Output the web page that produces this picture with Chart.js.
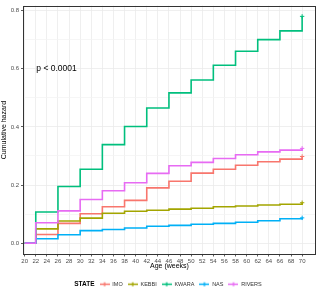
<!DOCTYPE html>
<html lang="en">
<head>
<meta charset="UTF-8">
<title>Cumulative hazard</title>
<script src="https://cdn.jsdelivr.net/npm/chart.js"></script>
<style>
  html, body { margin: 0; padding: 0; background: #fff; }
  #wrap { width: 320px; height: 292px; }
</style>
</head>
<body>
<div id="wrap"><canvas id="chart"></canvas></div>
<script>
// ages where the curves step (weeks)
var ages = [20, 22, 26, 30, 34, 38, 42, 46, 50, 54, 58, 62, 66, 70];
var imo    = [0, 0.030, 0.068, 0.101, 0.125, 0.147, 0.190, 0.213, 0.241, 0.254, 0.268, 0.280, 0.289, 0.298];
var kebbi  = [0, 0.049, 0.076, 0.086, 0.103, 0.110, 0.113, 0.117, 0.120, 0.125, 0.128, 0.131, 0.134, 0.139];
var kwara  = [0, 0.107, 0.195, 0.254, 0.339, 0.401, 0.465, 0.517, 0.561, 0.612, 0.660, 0.700, 0.730, 0.780];
var nas    = [0, 0.015, 0.029, 0.043, 0.047, 0.052, 0.058, 0.061, 0.065, 0.068, 0.072, 0.077, 0.084, 0.087];
var rivers = [0, 0.070, 0.111, 0.150, 0.180, 0.208, 0.240, 0.266, 0.278, 0.291, 0.304, 0.314, 0.320, 0.326];

var states = ['IMO', 'KEBBI', 'KWARA', 'NAS', 'RIVERS'];
var series = [imo, kebbi, kwara, nas, rivers];
var colours = ['#F8766D', '#A3A500', '#00BF7D', '#00B0F6', '#E76BF3'];

var xTicks = [20, 22, 24, 26, 28, 30, 32, 34, 36, 38, 40, 42, 44, 46, 48, 50, 52, 54, 56, 58, 60, 62, 64, 66, 68, 70];
var yTicks = [0, 0.1, 0.2, 0.3, 0.4, 0.5, 0.6, 0.7, 0.8];
var pText = 'p < 0.0001';

var FONT = '"Liberation Sans", Arial, sans-serif';

function isMajorY(v) {
    return Math.round(v * 10) % 2 === 0;
}

// little line-with-cross symbol for the legend
function legendIcon(colour) {
    var c = document.createElement('canvas');
    c.width = 10; c.height = 7;
    var g = c.getContext('2d');
    if (colour) {
        g.strokeStyle = colour;
        g.lineWidth = 1.4;
        g.beginPath();
        g.moveTo(0, 3.5); g.lineTo(10, 3.5);
        g.moveTo(5, 1.5); g.lineTo(5, 5.5);
        g.stroke();
    }
    return c;
}
var icons = colours.map(legendIcon);
var blankIcon = legendIcon(null);

var datasets = states.map(function(s, i) {
    return {
        label: s,
        data: ages.map(function(a, j) { return { x: a, y: series[i][j] }; }),
        borderColor: colours[i],
        backgroundColor: colours[i],
        borderWidth: 1.6,
        stepped: true,
        fill: false,
        pointStyle: 'cross',
        pointRadius: function(ctx) { return ctx.dataIndex === ages.length - 1 ? 2.2 : 0; },
        pointBorderWidth: 1,
        pointBorderColor: colours[i],
        pointHoverRadius: 0,
        order: states.length - 1 - i
    };
});

var extras = {
    id: 'extras',
    afterDatasetsDraw: function(chart) {
        var ctx = chart.ctx, a = chart.chartArea;
        ctx.save();
        // panel border
        ctx.strokeStyle = '#333333';
        ctx.lineWidth = 1;
        ctx.strokeRect(Math.round(a.left) + 0.5, Math.round(a.top) + 0.5,
            Math.round(a.right - a.left) - 1, Math.round(a.bottom - a.top) - 1);
        // p-value label
        ctx.fillStyle = '#000';
        ctx.font = '8.5px ' + FONT;
        ctx.textBaseline = 'middle';
        ctx.textAlign = 'left';
        ctx.fillText(pText, chart.scales.x.getPixelForValue(22.1), chart.scales.y.getPixelForValue(0.6));
        ctx.restore();
    },
    afterDraw: function(chart) {
        var lg = chart.legend;
        if (!lg || !lg.legendHitBoxes || !lg.legendHitBoxes.length) return;
        var hb = lg.legendHitBoxes[0];
        var ctx = chart.ctx;
        ctx.save();
        ctx.fillStyle = '#000';
        ctx.font = 'bold 6.5px ' + FONT;
        ctx.textAlign = 'right';
        ctx.textBaseline = 'middle';
        ctx.fillText('STATE', hb.left + hb.width, hb.top + hb.height / 2);
        ctx.restore();
    }
};

new Chart(document.getElementById('chart'), {
    type: 'line',
    data: { datasets: datasets },
    options: {
        responsive: true,
        maintainAspectRatio: false,
        animation: false,
        layout: { padding: { top: 5, right: 4, bottom: -5, left: 0 } },
        plugins: {
            tooltip: { enabled: false },
            legend: {
                position: 'bottom',
                labels: {
                    usePointStyle: true,
                    pointStyleWidth: 10,
                    boxHeight: 7,
                    padding: 5,
                    color: '#333',
                    font: { size: 5.5, family: FONT },
                    generateLabels: function(chart) {
                        var items = Chart.defaults.plugins.legend.labels.generateLabels(chart);
                        items.sort(function(p, q) { return p.datasetIndex - q.datasetIndex; });
                        items.forEach(function(it) { it.pointStyle = icons[it.datasetIndex]; });
                        // slot for the "STATE" title, drawn in bold afterwards
                        items.unshift({
                            text: '\u2003\u2003\u2003\u2003\u2003', fontColor: 'rgba(0,0,0,0)', pointStyle: blankIcon,
                            fillStyle: 'rgba(0,0,0,0)', strokeStyle: 'rgba(0,0,0,0)', lineWidth: 0,
                            hidden: false, datasetIndex: -1
                        });
                        return items;
                    }
                }
            }
        },
        scales: {
            x: {
                type: 'linear',
                min: 19.7,
                max: 72.5,
                afterBuildTicks: function(scale) {
                    scale.ticks = xTicks.map(function(v) { return { value: v }; });
                },
                afterFit: function(scale) { scale.height = 22; },
                ticks: {
                    autoSkip: false, maxRotation: 0, padding: 1,
                    color: '#4d4d4d', font: { size: 6, family: FONT },
                    callback: function(v) { return String(v); }
                },
                grid: { color: '#ebebeb', lineWidth: 0.8, tickLength: 2, tickColor: '#333' },
                border: { display: false },
                title: { display: true, text: 'Age (weeks)', color: '#000', padding: { top: 0, bottom: 6.5 }, font: { size: 7, family: FONT } }
            },
            y: {
                min: -0.039,
                max: 0.817,
                afterBuildTicks: function(scale) {
                    scale.ticks = yTicks.map(function(v) { return { value: v }; });
                },
                afterFit: function(scale) { scale.width = 23; },
                ticks: {
                    padding: 2, color: '#4d4d4d', font: { size: 6, family: FONT },
                    callback: function(v) { return isMajorY(v) ? v.toFixed(1) : ''; }
                },
                grid: {
                    color: function(ctx) { return ctx.tick && isMajorY(ctx.tick.value) ? '#ebebeb' : '#f4f4f4'; },
                    lineWidth: 0.8,
                    tickLength: 2,
                    tickColor: function(ctx) { return ctx.tick && isMajorY(ctx.tick.value) ? '#333' : 'rgba(0,0,0,0)'; }
                },
                border: { display: false },
                title: { display: true, text: 'Cumulative hazard', color: '#000', padding: 0, font: { size: 7, family: FONT } }
            }
        }
    },
    plugins: [extras]
});
</script>
</body>
</html>
